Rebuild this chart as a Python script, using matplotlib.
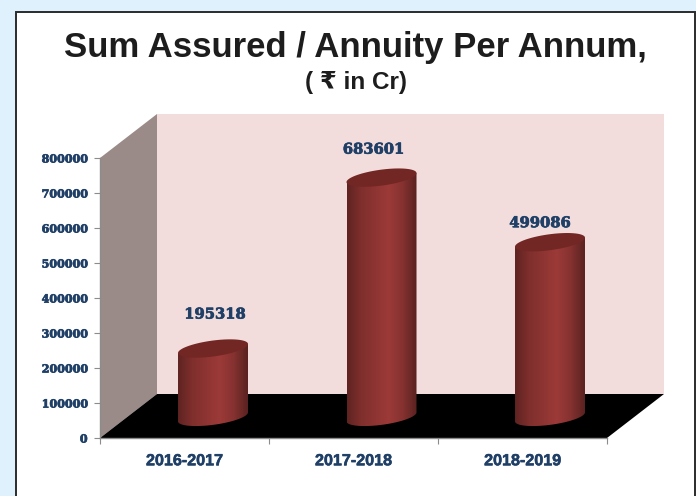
#!/usr/bin/env python3
import matplotlib
matplotlib.use('Agg')
import matplotlib.pyplot as plt
import matplotlib.patheffects as pe
from matplotlib.patches import Polygon, Rectangle, PathPatch
from matplotlib.path import Path
from matplotlib.colors import LinearSegmentedColormap
import numpy as np

years = ['2016-2017', '2017-2018', '2018-2019']
values = [195318, 683601, 499086]
y_ticks = [0, 100000, 200000, 300000, 400000, 500000, 600000, 700000, 800000]

W, H = 696, 496
NAVY = '#1f3f66'
SERIF = ['DejaVu Serif']
SANS = ['Liberation Sans', 'DejaVu Sans']
heavy = [pe.withStroke(linewidth=0.5, foreground=NAVY)]

fig = plt.figure(figsize=(W / 100, H / 100), dpi=100, facecolor='#dff1fc')

# white card behind everything, pixel coords
bg = fig.add_axes([0, 0, 1, 1])
bg.set_xlim(0, W)
bg.set_ylim(H, 0)
bg.axis('off')
bg.add_patch(Rectangle((16, 12), 679, 490, fc='white', ec='#2b2b2b', lw=1.4))
bg.text(355.5, 47, 'Sum Assured / Annuity Per Annum,', family=SANS, fontweight='bold',
        fontsize=25, color='#1d1d1d', ha='center', va='center')
bg.text(356, 82, '( ₹ in Cr)', family=SANS, fontweight='bold',
        fontsize=17.5, color='#1d1d1d', ha='center', va='center')

# main axes: front edge of the 3d box
x0, x1, y0, y1 = 100, 607, 438, 158
ax = fig.add_axes([x0 / W, 1 - y0 / H, (x1 - x0) / W, (y0 - y1) / H])
ax.set_xlim(0, 3)
ax.set_ylim(0, 800000)
ax.patch.set_visible(False)
for s in ['top', 'right']:
    ax.spines[s].set_visible(False)
for s in ['left', 'bottom']:
    ax.spines[s].set_color('#8c8c8c')
    ax.spines[s].set_linewidth(1)

ux = 3 / (x1 - x0)          # data units per pixel
uy = 800000 / (y0 - y1)
dx, dy = 57 * ux, 44 * uy   # depth of the box

ax.add_patch(Polygon([(dx, dy), (3 + dx, dy), (3 + dx, 800000 + dy), (dx, 800000 + dy)],
                     fc='#f2dcdc', ec='none', clip_on=False, zorder=1))
ax.add_patch(Polygon([(0, 0), (dx, dy), (dx, 800000 + dy), (0, 800000)],
                     fc='#9a8a88', ec='none', clip_on=False, zorder=1))
ax.add_patch(Polygon([(0, 0), (3, 0), (3 + dx, dy), (dx, dy)],
                     fc='black', ec='none', clip_on=False, zorder=1))

# cylinders
shade = LinearSegmentedColormap.from_list(
    'cyl', [(0, '#5e2321'), (0.2, '#7f2f2d'), (0.6, '#9c3a38'), (0.8, '#853230'), (1, '#5a2220')])
grad = np.linspace(0, 1, 200).reshape(1, -1)
half = 35 * ux
t = np.linspace(0, 2 * np.pi, 120)

# label nudges, pixels from the top of each cylinder
label_dx = [2, -8, -10]
label_dy = [34, 28, 19]


def rim(cx, cy):
    # sheared ellipse, left side sits lower than the right
    return np.column_stack([cx + half * np.cos(t),
                            cy + 8 * uy * np.sin(t) + 4.5 * uy * np.cos(t)])


base = 0.48 * dy
for i, v in enumerate(values):
    cx = i + 0.5 + 0.5 * dx - (i * 0.5) * ux
    top_rim = rim(cx, base + v)
    low_rim = rim(cx, base)
    # body outline: lower half of bottom rim, then straight up to the top
    lower = low_rim[(t >= np.pi) & (t <= 2 * np.pi)]
    outline = np.vstack([lower, [top_rim[0]], [top_rim[60]], [lower[0]]])
    body = Path(outline, closed=False)
    im = ax.imshow(grad, cmap=shade, aspect='auto', zorder=3, clip_on=True,
                   extent=[cx - half, cx + half, base - 20 * uy, base + v + 10 * uy])
    im.set_clip_path(PathPatch(body, transform=ax.transData))
    ax.add_patch(Polygon(top_rim, fc='#722724', ec='none', clip_on=False, zorder=4))
    ax.text(cx + label_dx[i] * ux, base + v + label_dy[i] * uy, str(v), family=SERIF, fontweight='bold',
            fontsize=10.6, color=NAVY, ha='center', va='center', zorder=5, path_effects=heavy)
ax.set_xlim(0, 3)
ax.set_ylim(0, 800000)

ax.set_yticks(y_ticks)
ax.set_yticklabels([str(v) for v in y_ticks], family=SERIF, fontweight='bold', fontsize=8,
                   color=NAVY, path_effects=heavy)
ax.set_xticks([0, 1, 2, 3])
ax.set_xticklabels([])
ax.set_xticks([0.5, 1.5, 2.5], minor=True)
ax.set_xticklabels(years, minor=True, family=SANS, fontweight='bold', fontsize=11.6, color=NAVY,
                   path_effects=[pe.withStroke(linewidth=0.4, foreground=NAVY)])
ax.tick_params(axis='x', which='minor', length=0, pad=11)
ax.tick_params(axis='x', which='major', length=4, color='#8c8c8c', direction='out')
ax.tick_params(axis='y', length=4, color='#8c8c8c', pad=5)

plt.savefig('out.png', dpi=100, facecolor=fig.get_facecolor())
